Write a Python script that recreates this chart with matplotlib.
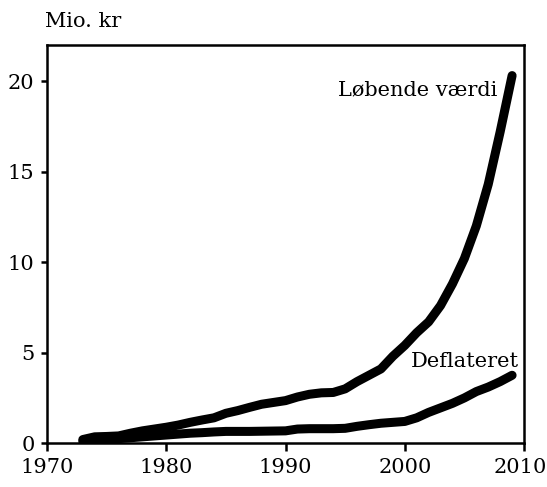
import numpy as np
import matplotlib
matplotlib.use("Agg")
import matplotlib.pyplot as plt
from matplotlib.transforms import offset_copy

plt.rcParams['font.family'] = ['DejaVu Serif']

years = np.arange(1973, 2010)

# Mio. kr
loebende = [0.2, 0.35, 0.37, 0.4, 0.55, 0.68, 0.78, 0.88, 1.0, 1.15,
            1.28, 1.4, 1.65, 1.8, 1.98, 2.15, 2.25, 2.35, 2.55, 2.7,
            2.78, 2.8, 3.0, 3.4, 3.75, 4.1, 4.8, 5.4, 6.1, 6.7,
            7.6, 8.8, 10.2, 12.0, 14.3, 17.2, 20.3]
deflateret = [0.1, 0.2, 0.22, 0.25, 0.3, 0.35, 0.4, 0.45, 0.5, 0.55,
              0.58, 0.62, 0.65, 0.65, 0.65, 0.66, 0.67, 0.68, 0.78, 0.8,
              0.8, 0.8, 0.82, 0.93, 1.02, 1.1, 1.15, 1.2, 1.4, 1.7,
              1.95, 2.2, 2.5, 2.85, 3.1, 3.4, 3.75]

xticks = [1970, 1980, 1990, 2000, 2010]
yticks = [0, 5, 10, 15, 20]

fig = plt.figure(figsize=(5.47, 4.87), dpi=100)
ax = fig.add_axes([0.086, 0.090, 0.872, 0.818])

ax.plot(years, loebende, color='black', lw=6.5, solid_capstyle='round',
        solid_joinstyle='round')
ax.plot(years, deflateret, color='black', lw=6.5, solid_capstyle='round',
        solid_joinstyle='round')

ax.set_xlim(1970, 2010)
ax.set_ylim(0, 22)
ax.set_xticks(xticks)
ax.set_yticks(yticks)
ax.tick_params(axis='x', direction='out', length=6, width=1.8, labelsize=15,
               pad=5)
ax.tick_params(axis='y', direction='out', length=4, width=1.8, labelsize=15,
               pad=5)
for s in ax.spines.values():
    s.set_linewidth(1.8)

# 2010 would run off the right edge, nudge it a little
last = ax.get_xticklabels()[-1]
last.set_transform(offset_copy(last.get_transform(), fig=fig, x=-4, y=0,
                               units='dots'))

ax.text(2007.8, 19.5, 'Løbende værdi', fontsize=15, ha='right', va='center')
ax.text(2009.6, 4.5, 'Deflateret', fontsize=15, ha='right', va='center')
fig.text(0.082, 0.955, 'Mio. kr', fontsize=15, ha='left', va='center')

fig.savefig('out.png', dpi=100)
